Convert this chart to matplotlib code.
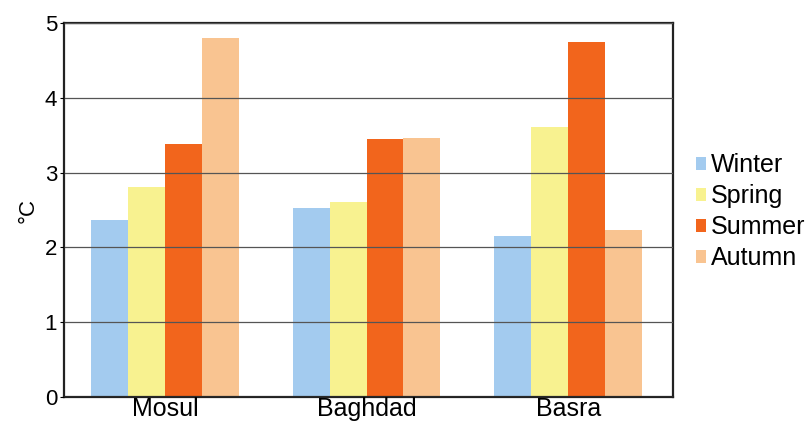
import numpy as np
import matplotlib.pyplot as plt

plt.rcParams['font.family'] = ['Liberation Sans', 'DejaVu Sans']

# Data
cities = ['Mosul', 'Baghdad', 'Basra']
seasons = ['Winter', 'Spring', 'Summer', 'Autumn']
winter = [2.37, 2.53, 2.15]
spring = [2.81, 2.61, 3.61]
summer = [3.38, 3.45, 4.75]
autumn = [4.80, 3.46, 2.23]
colors = ['#a3cbef', '#f8f290', '#f2651c', '#f9c491']

fig = plt.figure(figsize=(8.11, 4.26), dpi=100)
ax = fig.add_axes([0.079, 0.068, 0.751, 0.878])

x = np.arange(len(cities))
w = 0.183
for i, (vals, name) in enumerate(zip([winter, spring, summer, autumn], seasons)):
    ax.bar(x + (i - 1.5) * w, vals, w, color=colors[i], label=name, zorder=1)

ax.set_xlim(-0.5, 2.52)
ax.set_ylim(0, 5)
ax.set_yticks([0, 1, 2, 3, 4, 5])
ax.set_xticks(x)
ax.set_xticklabels(cities, fontsize=18)
ax.tick_params(axis='y', labelsize=16, length=3, pad=2)
ax.tick_params(axis='x', length=0, pad=0)
ax.set_ylabel('°C', fontsize=16, labelpad=4)

ax.grid(axis='y', color='#555555', linewidth=0.9, zorder=3)
ax.set_axisbelow(False)
for s in ax.spines.values():
    s.set_linewidth(1.6)
    s.set_color('#222222')

ax.legend(loc='center left', bbox_to_anchor=(1.0, 0.495), frameon=False,
          fontsize=18, handlelength=0.4, handleheight=0.4, handletextpad=0.2,
          labelspacing=0.28, borderaxespad=0.5)

fig.savefig('out.png', dpi=100)
